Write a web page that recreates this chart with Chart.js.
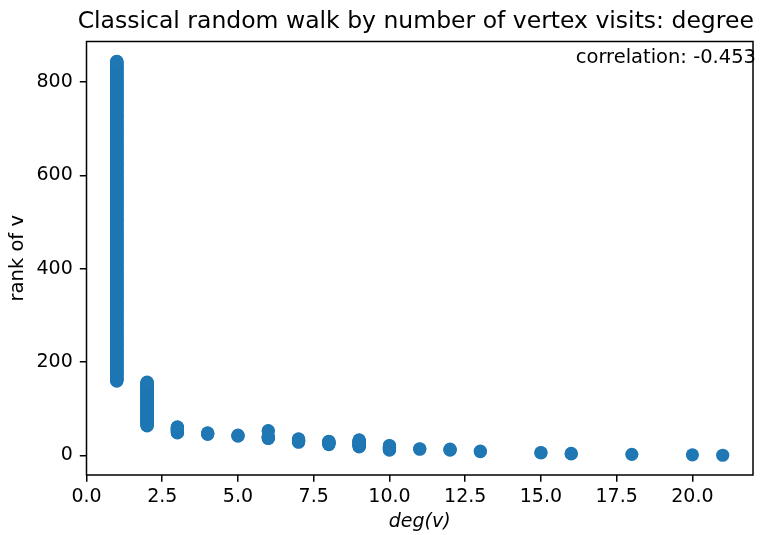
<!DOCTYPE html>
<html>
<head>
<meta charset="utf-8">
<script src="https://cdn.jsdelivr.net/npm/chart.js@4.4.1/dist/chart.umd.min.js"></script>
<style>
  html, body { margin: 0; padding: 0; background: #ffffff; }
  #c { display: block; }
</style>
</head>
<body>
<canvas id="c" width="767" height="535"></canvas>
<script>
// Vertex degree groups and the span of visit ranks each group occupies
// (rank 0 = most visited vertex).
const degrees  = [1,   2,   3,  4,  5,  6,  6,  7,  8,  9,  10, 11, 12, 13, 15, 16, 18, 20, 21];
const rankFrom = [159, 63,  48, 45, 41, 52, 36, 28, 23, 18, 11, 13, 11, 8,  5,  3,  2,  1,  0];
const rankTo   = [845, 157, 61, 48, 43, 53, 40, 35, 30, 33, 21, 14, 13, 9,  6,  4,  2,  1,  0];

const xTicks = [0, 2.5, 5, 7.5, 10, 12.5, 15, 17.5, 20];
const yTicks = [0, 200, 400, 600, 800];

const titleText = 'Classical random walk by number of vertex visits: degree';
const correlationText = 'correlation: -0.453';

// One point per vertex: every rank inside a group's span.
const points = [];
degrees.forEach((d, i) => {
  for (let r = rankFrom[i]; r <= rankTo[i]; r++) points.push({ x: d, y: r });
});

const FONT = "'DejaVu Sans', sans-serif";

const frame = {
  id: 'frame',
  afterDraw(chart) {
    const { ctx, chartArea: a } = chart;
    ctx.save();
    ctx.strokeStyle = '#000';
    ctx.lineWidth = 1.5;
    ctx.strokeRect(a.left, a.top, a.right - a.left, a.bottom - a.top);
    ctx.fillStyle = '#000';
    ctx.font = '23.5px ' + FONT;
    ctx.textAlign = 'center';
    ctx.textBaseline = 'alphabetic';
    ctx.fillText(titleText, (a.left + a.right) / 2 - 4, 28);
    ctx.font = '19.5px ' + FONT;
    ctx.textAlign = 'right';
    ctx.fillText(correlationText, 756, 63);
    ctx.restore();
  }
};

const tickGrid = { drawOnChartArea: false, drawTicks: true, tickLength: 6.7, color: '#000', lineWidth: 1.5 };

new Chart(document.getElementById('c'), {
  type: 'scatter',
  data: {
    datasets: [{
      data: points,
      backgroundColor: '#1f77b4',
      borderColor: '#1f77b4',
      borderWidth: 0,
      pointRadius: 6.6,
      pointHoverRadius: 6.6
    }]
  },
  options: {
    responsive: false,
    animation: false,
    events: [],
    layout: { padding: { top: 41.5, right: 14, left: 0, bottom: 0 } },
    plugins: { legend: { display: false }, tooltip: { enabled: false }, title: { display: false } },
    scales: {
      x: {
        type: 'linear',
        min: 0,
        max: 22,
        afterFit(s) { s.height = 60; },
        afterBuildTicks(s) { s.ticks = xTicks.map(v => ({ value: v })); },
        grid: tickGrid,
        border: { display: false },
        ticks: {
          padding: 4,
          color: '#000',
          font: { family: FONT, size: 19 },
          maxRotation: 0,
          autoSkip: false,
          callback: v => Number(v).toFixed(1)
        },
        title: {
          display: true,
          text: 'deg(v)',
          color: '#000',
          font: { family: FONT, size: 19, style: 'italic' },
          padding: { top: 0, bottom: 2 }
        }
      },
      y: {
        type: 'linear',
        min: -42.3,
        max: 887.3,
        afterFit(s) { s.width = 86.5; },
        afterBuildTicks(s) { s.ticks = yTicks.map(v => ({ value: v })); },
        grid: tickGrid,
        border: { display: false },
        ticks: {
          padding: 7,
          color: '#000',
          font: { family: FONT, size: 19 },
          autoSkip: false,
          callback: v => String(v)
        },
        title: {
          display: true,
          text: 'rank of v',
          color: '#000',
          font: { family: FONT, size: 19.5 },
          padding: { top: 6, bottom: 0 }
        }
      }
    }
  },
  plugins: [frame]
});
</script>
</body>
</html>
